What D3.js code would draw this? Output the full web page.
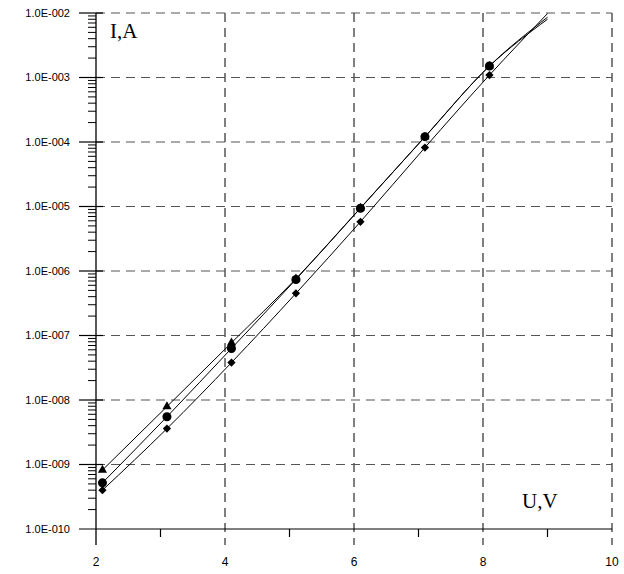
<!DOCTYPE html>
<html><head><meta charset="utf-8">
<script src="https://cdn.jsdelivr.net/npm/d3@7"></script>
<style>body{margin:0;background:#fff}svg{display:block}</style>
</head><body>
<script>
const voltages = [2.1, 3.1, 4.1, 5.1, 6.1, 7.1, 8.1];
const triangleI = [8.2e-10, 7.9e-9, 7.7e-8, 7.6e-7, 9.5e-6, 1.2e-4, 1.5e-3];
const circleI   = [5.2e-10, 5.5e-9, 6.3e-8, 7.4e-7, 9.4e-6, 1.21e-4, 1.51e-3];
const diamondI  = [4.0e-10, 3.6e-9, 3.8e-8, 4.5e-7, 5.8e-6, 8.2e-5, 1.09e-3];
const curveEndU = 9.0;
const curveEndI = {triangle: 8.0e-3, circle: 8.6e-3, diamond: 9.8e-3};
const xTicks = [2, 4, 6, 8, 10];
const xMinorTicks = [3, 5, 7, 9];
const yTicks = [1e-10, 1e-9, 1e-8, 1e-7, 1e-6, 1e-5, 1e-4, 1e-3, 1e-2];
const yTickLabels = ["1.0E-010","1.0E-009","1.0E-008","1.0E-007","1.0E-006","1.0E-005","1.0E-004","1.0E-003","1.0E-002"];

const W = 624, H = 574;
const svg = d3.select("body").append("svg").attr("width", W).attr("height", H);
const x = d3.scaleLinear().domain([2, 10]).range([96, 612]);
const y = d3.scaleLog().domain([1e-10, 1e-2]).range([529, 13]);

const gridColor = "#555";
// horizontal gridlines
svg.append("g").selectAll("line").data(yTicks.slice(1)).join("line")
  .attr("x1", x(2)).attr("x2", x(10))
  .attr("y1", d => y(d)).attr("y2", d => y(d))
  .attr("stroke", gridColor).attr("stroke-width", 1.2).attr("stroke-dasharray", "9,6");
// vertical gridlines
svg.append("g").selectAll("line").data(xTicks.slice(1)).join("line")
  .attr("x1", d => x(d)).attr("x2", d => x(d))
  .attr("y1", y(1e-2)).attr("y2", 545)
  .attr("stroke", gridColor).attr("stroke-width", 1.5).attr("stroke-dasharray", "9,6");

// y axis
svg.append("line").attr("x1", x(2)).attr("x2", x(2)).attr("y1", y(1e-2)).attr("y2", 545)
  .attr("stroke", "#000").attr("stroke-width", 1.3);
// y major ticks
svg.append("g").selectAll("line").data(yTicks).join("line")
  .attr("x1", 79).attr("x2", d => d === 1e-10 ? x(10) : 103)
  .attr("y1", d => y(d)).attr("y2", d => y(d))
  .attr("stroke", "#000").attr("stroke-width", 1.2);
// y minor ticks
const minors = [];
for (let e = -10; e < -2; e++) for (let m = 2; m <= 9; m++) minors.push(m * Math.pow(10, e));
svg.append("g").selectAll("line").data(minors).join("line")
  .attr("x1", 88).attr("x2", x(2))
  .attr("y1", d => y(d)).attr("y2", d => y(d))
  .attr("stroke", "#000").attr("stroke-width", 1);
// y labels
svg.append("g").selectAll("text").data(yTicks).join("text")
  .attr("x", 70).attr("y", d => y(d)).attr("dy", "0.35em")
  .attr("text-anchor", "end").attr("font-family", "Liberation Sans, Arial, sans-serif")
  .attr("font-size", 11).text((d, i) => yTickLabels[i]);

// x minor ticks
svg.append("g").selectAll("line").data(xMinorTicks).join("line")
  .attr("x1", d => x(d)).attr("x2", d => x(d)).attr("y1", y(1e-10)).attr("y2", y(1e-10) + 8)
  .attr("stroke", "#000").attr("stroke-width", 1.2);
// x labels
svg.append("g").selectAll("text").data(xTicks).join("text")
  .attr("x", d => x(d)).attr("y", 566).attr("text-anchor", "middle")
  .attr("font-family", "Liberation Sans, Arial, sans-serif").attr("font-size", 12).text(d => d);

// axis titles
svg.append("text").attr("x", 110).attr("y", 38).attr("font-family", "Liberation Serif, Times New Roman, serif")
  .attr("font-size", 21).text("I,A");
svg.append("text").attr("x", 522).attr("y", 508).attr("font-family", "Liberation Serif, Times New Roman, serif")
  .attr("font-size", 21).text("U,V");

// curves
const line = d3.line().x(d => x(d[0])).y(d => y(d[1])).curve(d3.curveMonotoneX);
const series = [["triangle", triangleI], ["circle", circleI], ["diamond", diamondI]];
series.forEach(([name, vals]) => {
  const pts = voltages.map((v, i) => [v, vals[i]]);
  pts.push([curveEndU, curveEndI[name]]);
  svg.append("path").datum(pts).attr("d", line).attr("fill", "none")
    .attr("stroke", "#000").attr("stroke-width", 1);
});

// markers
const sym = {triangle: d3.symbol().type(d3.symbolTriangle).size(36),
             circle: d3.symbol().type(d3.symbolCircle).size(64),
             diamond: d3.symbol().type(d3.symbolSquare).size(34)};
series.forEach(([name, vals]) => {
  svg.append("g").selectAll("path").data(vals).join("path")
    .attr("transform", (d, i) => `translate(${x(voltages[i])},${y(d)})` + (name === "diamond" ? " rotate(45)" : ""))
    .attr("d", sym[name]()).attr("fill", "#000");
});
</script>
</body></html>
